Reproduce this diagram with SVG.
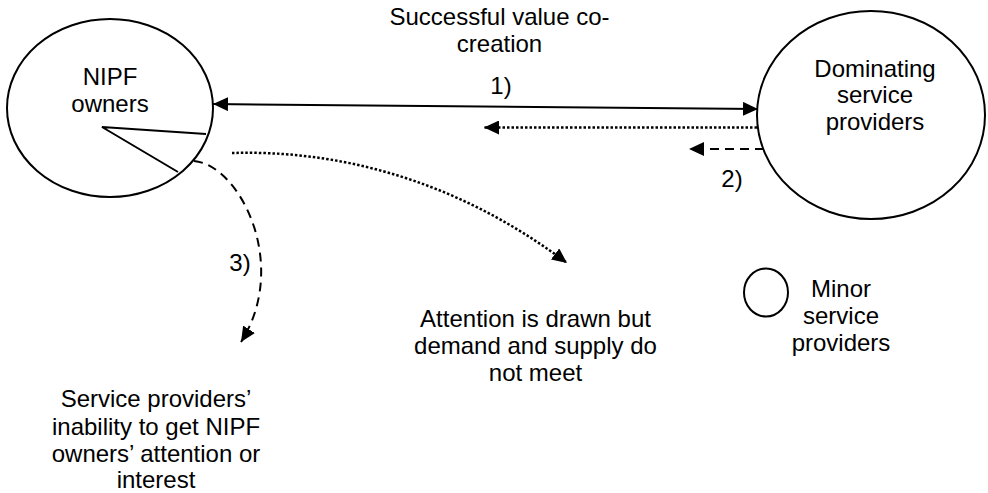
<svg xmlns="http://www.w3.org/2000/svg" width="988" height="493" viewBox="0 0 988 493">
<style>
text{font-family:"Liberation Sans",Arial,sans-serif;font-size:24px;fill:#000;text-anchor:middle}
.node{fill:#fff;stroke:#000;stroke-width:2}
.c{fill:none;stroke:#000;stroke-width:2}
.dot{stroke-dasharray:2.5 2;stroke-width:2.5}
.dash{stroke-dasharray:9 6}
</style>
<defs>
<marker id="ah" markerUnits="userSpaceOnUse" markerWidth="16" markerHeight="14" refX="15" refY="7" orient="auto-start-reverse">
<path d="M0,0 L15,7 L0,14 z" fill="#000"/>
</marker>
</defs>
<rect width="988" height="493" fill="#fff"/>
<g id="nipf">
<ellipse class="node" cx="110" cy="108" rx="103" ry="89"/>
<path class="c" d="M206,134 L102,127 L178,172"/>
<text x="110" y="85">NIPF</text>
<text x="110" y="112">owners</text>
</g>
<g id="dominating">
<ellipse class="node" cx="871" cy="115" rx="114" ry="104"/>
<text x="875" y="77">Dominating</text>
<text x="875" y="103">service</text>
<text x="875" y="130">providers</text>
</g>
<g id="minor">
<ellipse class="node" cx="766" cy="292.5" rx="22" ry="24"/>
<text x="841" y="297">Minor</text>
<text x="841" y="324">service</text>
<text x="841" y="351">providers</text>
</g>
<g id="labels">
<text x="499.5" y="25">Successful value co-</text>
<text x="499.5" y="52">creation</text>
<text x="501" y="94">1)</text>
<text x="732" y="187">2)</text>
<text x="240" y="271">3)</text>
<text x="535.5" y="327">Attention is drawn but</text>
<text x="535.5" y="354">demand and supply do</text>
<text x="535.5" y="381">not meet</text>
<text x="156" y="407">Service providers’</text>
<text x="156" y="434.5">inability to get NIPF</text>
<text x="156" y="462">owners’ attention or</text>
<text x="156" y="488">interest</text>
</g>
<g id="connectors">
<line class="c" x1="213" y1="104" x2="758" y2="109" marker-start="url(#ah)" marker-end="url(#ah)"/>
<line class="c dot" x1="757" y1="127.5" x2="484" y2="127.5" marker-end="url(#ah)"/>
<line class="c dash" x1="764" y1="149" x2="689" y2="149" marker-end="url(#ah)"/>
<path class="c dot" d="M232,153 C330,150 450,175 567,263" marker-end="url(#ah)"/>
<path class="c dash" d="M194,161 C240,165 290,265 241,342" marker-end="url(#ah)"/>
</g>
</svg>
